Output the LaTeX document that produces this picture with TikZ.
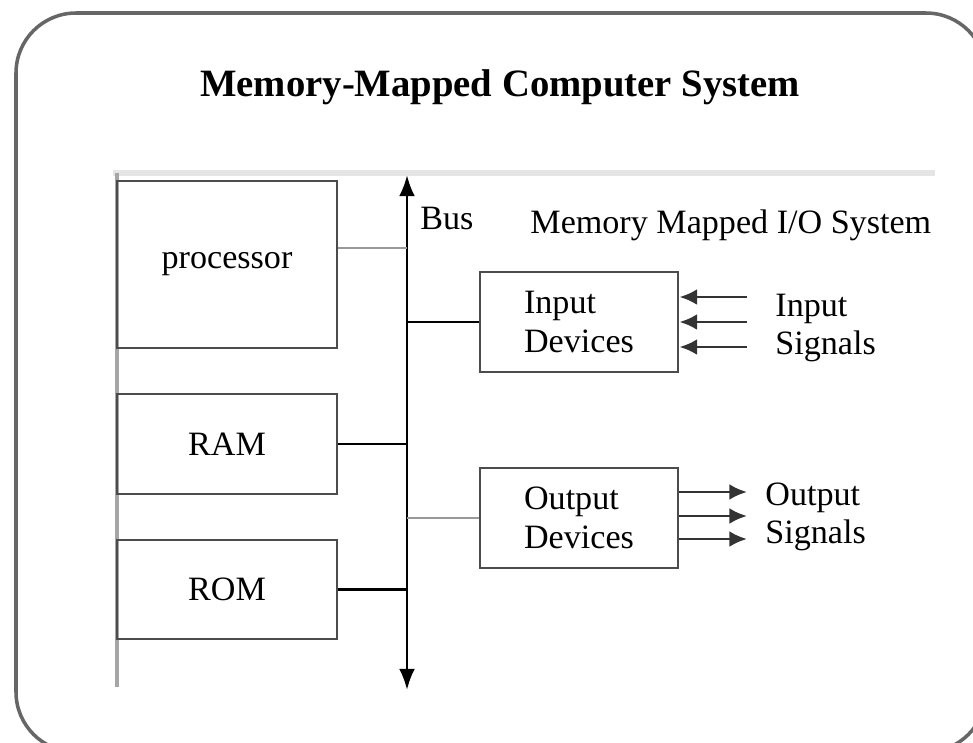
\documentclass[tikz,border=0pt]{standalone}
\usepackage{fontspec}
\setmainfont{Liberation Serif}
\usetikzlibrary{arrows.meta}
\tikzset{
  every node/.style={font=\fontsize{9.7pt}{11pt}\selectfont},
  unit/.style={draw=black!70, line width=0.8pt, inner sep=0pt},
  link/.style={line width=0.8pt, black},
  greylink/.style={line width=0.8pt, black!40},
  sigarrow/.style={line width=0.8pt, black!80, -{Latex[length=5pt,width=4.5pt]}},
}
\begin{document}
\begin{tikzpicture}[x=0.01cm,y=-0.01cm]
      \useasboundingbox (0,0) rectangle (973,742);
      % outer frame and title
      \draw[black!60, line width=1pt, rounded corners=0.6cm] (16,13) rectangle (986,752);
      \node (title) at (500,87) {\fontsize{11pt}{13pt}\selectfont\bfseries Memory-Mapped Computer System};
      \draw[black!10, line width=1.5pt] (113,173) -- (935,173);
      \draw[black!35, line width=1pt] (117,173) -- (117,687);
      % memory side
      \node[unit, minimum width=2.2cm, minimum height=1.67cm] (proc) at (227,264.5) {processor};
      \node[unit, minimum width=2.2cm, minimum height=1cm] (ram) at (227,444) {RAM};
      \node[unit, minimum width=2.2cm, minimum height=0.99cm] (rom) at (227,589.5) {ROM};
      % the bus
      \coordinate (bustop) at (407,175);
      \coordinate (busbot) at (407,690);
      \coordinate (b1) at (407,248);
      \draw[link, {Latex[length=6pt,width=4.5pt]}-{Latex[length=6pt,width=4.5pt]}] (busbot) -- (bustop);
      \node[anchor=west] (buslbl) at (408,218) {Bus};
      \draw[greylink] (proc.east |- b1) -- (b1);
      \draw[link] (ram.east) -- (ram.east -| bustop);
      \draw[link] (rom.east) -- (rom.east -| bustop);
      % I/O side
      \node[anchor=west] (iolbl) at (518,225) {Memory Mapped I/O System};
      \node[unit, minimum width=1.98cm, minimum height=1cm, align=left] (inbox) at (579,322) {Input\\Devices};
      \node[unit, minimum width=1.98cm, minimum height=1cm, align=left] (outbox) at (579,518) {Output\\Devices};
      \draw[link] (inbox.west) -- (inbox.west -| bustop);
      \draw[greylink] (outbox.west) -- (outbox.west -| bustop);
      \foreach \y [count=\k] in {297,322,347} {
        \coordinate (in\k) at (747,\y);
        \draw[sigarrow] (in\k) -- (in\k -| inbox.east);
      }
      \foreach \y [count=\k] in {492,516,539} {
        \coordinate (out\k) at (747,\y);
        \draw[sigarrow] (out\k -| outbox.east) -- (out\k);
      }
      \node[anchor=west, align=left] (inlbl) at (763,328) {Input\\Signals};
      \node[anchor=west, align=left] (outlbl) at (753,517) {Output\\Signals};
    \end{tikzpicture}
\end{document}
